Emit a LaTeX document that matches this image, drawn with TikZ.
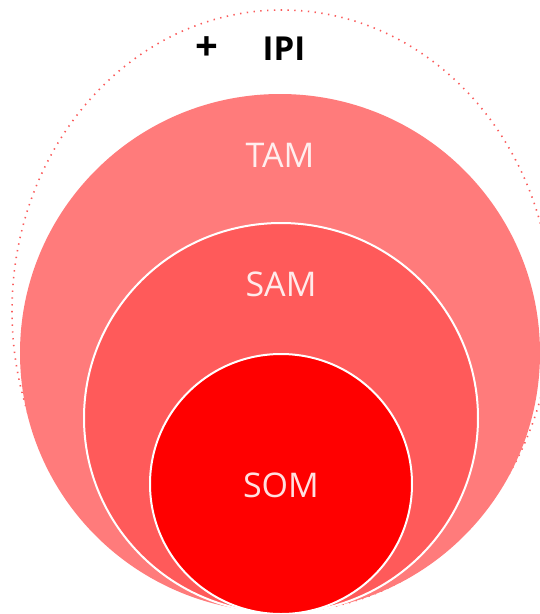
\documentclass[tikz,border=0pt]{standalone}
\usepackage{fontspec}
\setmainfont{Open Sans}
\usepackage{tikz}
\usetikzlibrary{shapes.geometric}
\definecolor{tamred}{RGB}{255,123,123}
\definecolor{samred}{RGB}{255,90,90}
\definecolor{somred}{RGB}{255,0,0}
\definecolor{dotred}{RGB}{250,90,90}

\begin{document}
\begin{tikzpicture}[x=1pt, y=-1pt,
  market/.style={ellipse, inner sep=0pt, outer sep=0pt},
  lbl/.style={text=white, text opacity=0.88, font=\fontsize{34}{40}\selectfont},
  ipilbl/.style={text=black, font=\fontsize{33}{40}\selectfont\bfseries}]

\useasboundingbox (0,0) rectangle (540,614);
\clip (0,0) rectangle (540,614);

% outer dotted ring
\node[market, draw=dotred, line width=1.6pt, dash pattern=on 1.4pt off 5.4pt,
  minimum width=540pt, minimum height=602pt] (ipiring) at (282,311) {};

% the three markets
\node[market, fill=tamred, minimum width=520pt, minimum height=518pt] (tam) at (280,353) {};
\node[market, fill=samred, draw=white, line width=2pt,
  minimum width=394pt, minimum height=390pt] (sam) at (281,418) {};
\node[market, fill=somred, draw=white, line width=2pt,
  minimum width=262pt, minimum height=260pt] (som) at (281,484) {};

\node[lbl] (tamlbl) at (280,155) {TAM};
\node[lbl] (samlbl) at (281,284) {SAM};
\node[lbl] (somlbl) at (281,485) {SOM};

\node[ipilbl, font=\fontsize{40}{44}\selectfont\bfseries] (plus) at (207,49) {+};
\node[ipilbl] (ipi) at (284,49) {IPI};
\end{tikzpicture}
\end{document}
